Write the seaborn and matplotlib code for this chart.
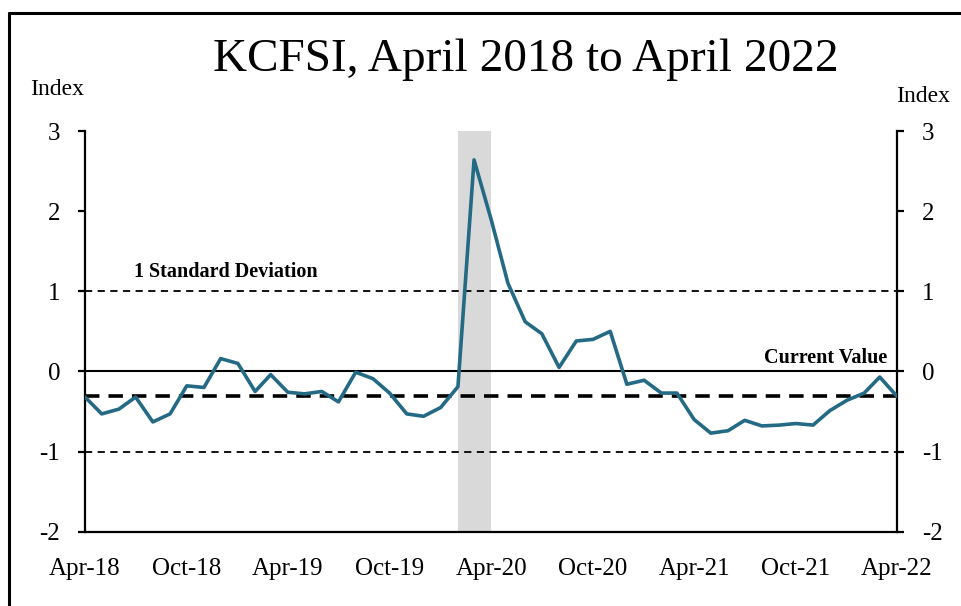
import numpy as np
import pandas as pd
import seaborn as sns
import matplotlib.pyplot as plt
import matplotlib.dates as mdates
import matplotlib.transforms as mtransforms
from matplotlib.lines import Line2D

# monthly KCFSI readings, Apr-2018 .. Apr-2022
months = pd.date_range("2018-04-01", "2022-04-01", freq="MS")
kcfsi = [-0.32, -0.53, -0.47, -0.32, -0.63, -0.53, -0.18, -0.20, 0.16,
         0.10, -0.25, -0.04, -0.26, -0.28, -0.25, -0.38, -0.01, -0.09, -0.27, -0.53, -0.56,
         -0.45, -0.19, 2.64, 1.89, 1.10, 0.62, 0.47, 0.05, 0.38, 0.40, 0.50, -0.16,
         -0.11, -0.27, -0.27, -0.60, -0.77, -0.74, -0.61, -0.68, -0.67, -0.65, -0.67, -0.49,
         -0.36, -0.27, -0.07, -0.31]
recession = ("2020-02-01", "2020-04-01")
std_dev = 1.0
y_ticks = [3, 2, 1, 0, -1, -2]

df = pd.DataFrame({"date": months, "kcfsi": kcfsi})

sns.set_style("ticks")
plt.rcParams['font.family'] = ['Liberation Serif', 'DejaVu Serif']
plt.rcParams['text.color'] = 'black'
plt.rcParams['xtick.color'] = 'black'
plt.rcParams['ytick.color'] = 'black'

fig = plt.figure(figsize=(9.62, 6.06), dpi=100)
ax = fig.add_axes([0.0884, 0.1226, 0.844, 0.6612])

ax.axvspan(pd.Timestamp(recession[0]), pd.Timestamp(recession[1]),
           color="#D9D9D9", lw=0, zorder=0)
ax.axhline(0, color="black", lw=1.5, zorder=1)
ax.axhline(std_dev, color="black", lw=1.3, ls=(0, (4, 3)), zorder=1)
ax.axhline(-std_dev, color="black", lw=1.3, ls=(0, (4, 3)), zorder=1)

sns.lineplot(data=df, x="date", y="kcfsi", color="#246A85", lw=2.6, ax=ax, zorder=3)
ax.axhline(kcfsi[-1], color="black", lw=2.6, ls=(0, (4, 2.5)), zorder=2)

ax.set_xlim(months[0], months[-1])
ax.set_ylim(-2, 3)
ax.set_yticks(y_ticks)
ax.set_yticklabels([str(v) for v in y_ticks])
ax.xaxis.set_major_locator(mdates.MonthLocator(bymonth=[4, 10]))
ax.xaxis.set_major_formatter(mdates.DateFormatter("%b-%y"))
ax.set_xlabel("")
ax.set_ylabel("")

for side in ["left", "right", "bottom"]:
    ax.spines[side].set_linewidth(1.6)
    ax.spines[side].set_color("black")
ax.spines["top"].set_visible(False)
ax.tick_params(axis="y", left=True, right=True, labelleft=True, labelright=True,
               direction="out", length=5, width=1.6, pad=13, labelsize=18)
ax.tick_params(axis="x", length=0, pad=19, labelsize=18)

blend = mtransforms.blended_transform_factory(ax.transAxes, ax.transData)
ax.text(0.060, 1.24, "1 Standard Deviation", transform=blend, fontsize=14.5,
        fontweight="bold", ha="left", va="center")
ax.text(0.988, 0.17, "Current Value", transform=blend, fontsize=14.5,
        fontweight="bold", ha="right", va="center")

fig.text(0.547, 0.901, "KCFSI, April 2018 to April 2022", fontsize=34,
         ha="center", va="center")
fig.text(0.0593, 0.852, "Index", fontsize=17, ha="center", va="center")
fig.text(0.9595, 0.840, "Index", fontsize=17, ha="center", va="center")

# outer frame
fig.add_artist(Line2D([0.0094, 0.0094], [0, 0.9785], transform=fig.transFigure,
                      color="black", lw=2.2))
fig.add_artist(Line2D([0.0094, 1.0], [0.9785, 0.9785], transform=fig.transFigure,
                      color="black", lw=2.2))

fig.savefig("out.png", dpi=100)
